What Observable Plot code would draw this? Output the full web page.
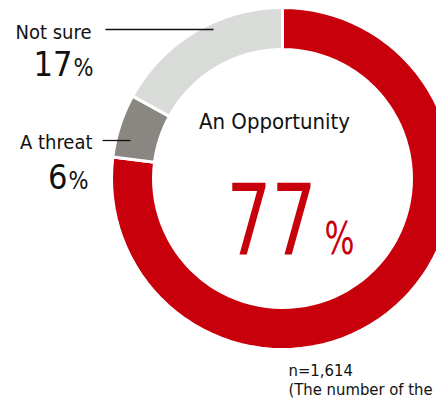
<!DOCTYPE html>
<html><head><meta charset="utf-8">
<script src="https://cdn.jsdelivr.net/npm/d3@7"></script>
<script src="https://cdn.jsdelivr.net/npm/@observablehq/plot@0.6"></script>
<style>body{margin:0;background:#fff;overflow:hidden}</style>
</head><body><div id="chart"></div>
<script>
const categories = ["An Opportunity", "A threat", "Not sure"];
const shares = [77, 6, 17];
const colors = ["#c8000b", "#8a8681", "#d9dbd8"];
const sampleNote = ["n=1,614", "(The number of the respondents)"];

const W = 436, H = 404;
const cx = 282, cy = 178, rOuter = 171, rInner = 129;
const FONT = "'DejaVu Sans Condensed', Roboto, sans-serif";

// ring polygons built from the shares
const total = d3.sum(shares);
const ringPts = [];
let cum = 0;
categories.forEach((cat, i) => {
  const a0 = cum / total * 2 * Math.PI;
  cum += shares[i];
  const a1 = cum / total * 2 * Math.PI;
  const n = 80;
  const pts = [];
  for (let k = 0; k <= n; k++) { const a = a0 + (a1 - a0) * k / n; pts.push([cx + rOuter * Math.sin(a), cy - rOuter * Math.cos(a)]); }
  for (let k = n; k >= 0; k--) { const a = a0 + (a1 - a0) * k / n; pts.push([cx + rInner * Math.sin(a), cy - rInner * Math.cos(a)]); }
  pts.push(pts[0]);
  pts.forEach((p, j) => ringPts.push({cat, x: p[0], y: p[1], j}));
});

const txt = (t, o) => Plot.text([t], {text: d => d, fontFamily: FONT, lineAnchor: "bottom", fill: "#111", ...o});

const chart = Plot.plot({
  width: W, height: H,
  margin: 0,
  x: {domain: [0, W], range: [0, W], axis: null},
  y: {domain: [0, H], range: [0, H], axis: null},
  color: {domain: categories, range: colors},
  style: {fontFamily: FONT, background: "#fff"},
  marks: [
    Plot.line(ringPts, {x: "x", y: "y", z: "cat", fill: "cat", stroke: "#fff", strokeWidth: 3, curve: "linear"}),
    txt(categories[0], {x: 274, y: 128, fontSize: 22, textAnchor: "middle"}),
    txt(String(shares[0]), {x: 226, y: 253, fontSize: 98, textAnchor: "start", fill: colors[0]}),
    txt("%", {x: 324, y: 253, fontSize: 44, textAnchor: "start", fill: colors[0]}),
    txt(categories[2], {x: 91, y: 38, fontSize: 20, textAnchor: "end"}),
    txt(String(shares[2]), {x: 72, y: 75, fontSize: 34, textAnchor: "end"}),
    txt("%", {x: 73, y: 75, fontSize: 25, textAnchor: "start"}),
    txt(categories[1], {x: 92, y: 148, fontSize: 20, textAnchor: "end"}),
    txt(String(shares[1]), {x: 67, y: 188, fontSize: 34, textAnchor: "end"}),
    txt("%", {x: 68, y: 188, fontSize: 25, textAnchor: "start"}),
    Plot.link([0], {x1: 105, x2: 213, y1: 29, y2: 29, stroke: "#111", strokeWidth: 1.3}),
    Plot.link([0], {x1: 102, x2: 130, y1: 140, y2: 140, stroke: "#111", strokeWidth: 1.3}),
    txt(sampleNote[0], {x: 288, y: 375, fontSize: 16.5, textAnchor: "start"}),
    txt(sampleNote[1], {x: 288, y: 394, fontSize: 16.5, textAnchor: "start"})
  ]
});
// narrow the big red figure to the reference's glyph widths
d3.select(chart).selectAll("text").each(function () {
  const fs = +this.closest("g").getAttribute("font-size");
  if (this.textContent === String(shares[0]) && fs === 98) {
    this.setAttribute("textLength", 90); this.setAttribute("lengthAdjust", "spacingAndGlyphs");
  }
  if (this.textContent === "%" && fs === 44) {
    this.setAttribute("textLength", 30); this.setAttribute("lengthAdjust", "spacingAndGlyphs");
  }
  if (this.textContent === "%" && fs === 25) {
    this.setAttribute("textLength", 20); this.setAttribute("lengthAdjust", "spacingAndGlyphs");
  }
});
document.getElementById("chart").appendChild(chart);
</script>
</body></html>
